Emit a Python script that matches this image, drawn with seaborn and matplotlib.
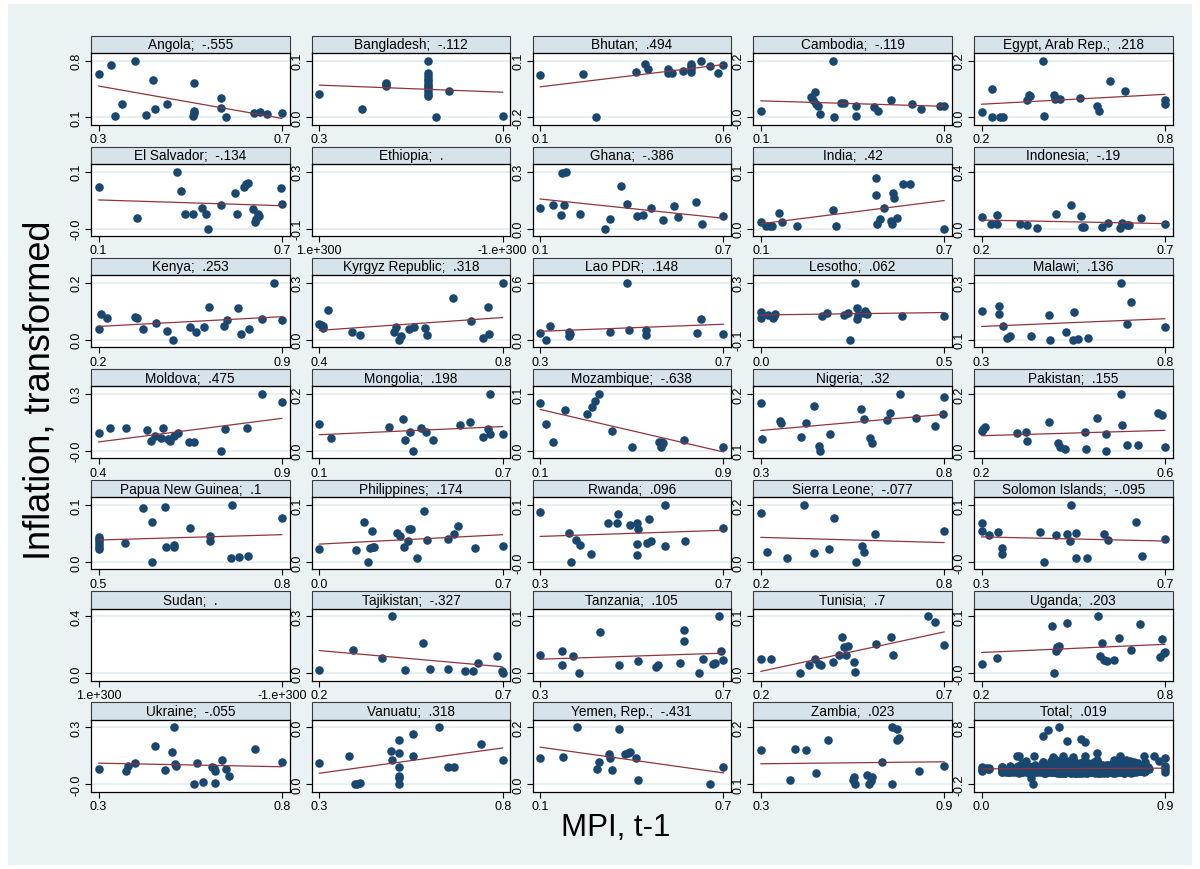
import numpy as np
import pandas as pd
import matplotlib
matplotlib.use("Agg")
import matplotlib.pyplot as plt
from matplotlib.patches import Rectangle
import seaborn as sns

sns.set_theme(style="white")
plt.rcParams['font.family'] = ['Liberation Sans', 'DejaVu Sans']

# ---------------- data (MPI t-1 on x, transformed inflation on y) ----------------
countries = ["Angola", "Bangladesh", "Bhutan", "Cambodia", "Egypt, Arab Rep.",
             "El Salvador", "Ethiopia", "Ghana", "India", "Indonesia",
             "Kenya", "Kyrgyz Republic", "Lao PDR", "Lesotho", "Malawi",
             "Moldova", "Mongolia", "Mozambique", "Nigeria", "Pakistan",
             "Papua New Guinea", "Philippines", "Rwanda", "Sierra Leone", "Solomon Islands",
             "Sudan", "Tajikistan", "Tanzania", "Tunisia", "Uganda",
             "Ukraine", "Vanuatu", "Yemen, Rep.", "Zambia"]
coef_labels = ["-.555", "-.112", ".494", "-.119", ".218",
               "-.134", ".", "-.386", ".42", "-.19",
               ".253", ".318", ".148", ".062", ".136",
               ".475", ".198", "-.638", ".32", ".155",
               ".1", ".174", ".096", "-.077", "-.095",
               ".", "-.327", ".105", ".7", ".203",
               "-.055", ".318", "-.431", ".023"]
total_label = "Total"
total_coef = ".019"

angola_x = [0.300, 0.328, 0.380, 0.336, 0.351, 0.403, 0.418, 0.424, 0.450, 0.508, 0.508, 0.505, 0.508, 0.566, 0.566, 0.578, 0.639, 0.651, 0.668, 0.700]
angola_y = [0.639, 0.746, 0.800, 0.121, 0.269, 0.133, 0.561, 0.207, 0.277, 0.532, 0.186, 0.125, 0.158, 0.343, 0.228, 0.108, 0.158, 0.170, 0.154, 0.162]

bangladesh_x = [0.300, 0.370, 0.409, 0.409, 0.409, 0.478, 0.478, 0.478, 0.478, 0.478, 0.478, 0.478, 0.478, 0.478, 0.478, 0.478, 0.491, 0.512, 0.599]
bangladesh_y = [0.041, 0.015, 0.061, 0.058, 0.055, 0.100, 0.078, 0.073, 0.068, 0.064, 0.059, 0.055, 0.051, 0.046, 0.042, 0.038, 0.000, 0.046, 0.002]

bhutan_x = [0.100, 0.218, 0.251, 0.360, 0.384, 0.392, 0.447, 0.447, 0.459, 0.488, 0.509, 0.509, 0.509, 0.509, 0.538, 0.562, 0.584, 0.598]
bhutan_y = [0.022, 0.031, -0.200, 0.038, 0.084, 0.054, 0.054, 0.036, 0.036, 0.047, 0.084, 0.070, 0.054, 0.042, 0.100, 0.070, 0.033, 0.079]

cambodia_x = [0.100, 0.290, 0.307, 0.300, 0.312, 0.317, 0.327, 0.376, 0.378, 0.406, 0.416, 0.465, 0.462, 0.531, 0.547, 0.597, 0.676, 0.711, 0.782, 0.800]
cambodia_y = [0.018, 0.069, 0.088, 0.058, 0.046, 0.037, 0.010, 0.200, -0.004, 0.048, 0.048, 0.036, 0.001, 0.032, 0.021, 0.060, 0.045, 0.027, 0.036, 0.036]

egypt_x = [0.200, 0.234, 0.234, 0.262, 0.271, 0.349, 0.356, 0.360, 0.402, 0.405, 0.436, 0.439, 0.458, 0.521, 0.578, 0.584, 0.620, 0.670, 0.800, 0.800]
egypt_y = [0.021, 0.101, 0.001, 0.004, 0.004, 0.062, 0.079, 0.075, 0.200, 0.007, 0.078, 0.066, 0.067, 0.069, 0.042, 0.024, 0.128, 0.095, 0.061, 0.049]

elsalvador_x = [0.100, 0.226, 0.357, 0.370, 0.384, 0.408, 0.439, 0.451, 0.459, 0.500, 0.545, 0.553, 0.577, 0.583, 0.588, 0.604, 0.612, 0.616, 0.620, 0.625, 0.697, 0.700]
elsalvador_y = [0.072, 0.016, 0.100, 0.065, 0.024, 0.024, 0.035, 0.023, -0.003, 0.039, 0.061, 0.024, 0.073, 0.077, 0.079, 0.033, 0.009, 0.015, 0.024, 0.019, 0.070, 0.041]

ethiopia_x = []
ethiopia_y = []

ghana_x = [0.100, 0.142, 0.168, 0.173, 0.185, 0.180, 0.231, 0.311, 0.329, 0.364, 0.385, 0.416, 0.438, 0.464, 0.502, 0.537, 0.550, 0.609, 0.629, 0.700]
ghana_y = [0.106, 0.124, 0.072, 0.293, 0.300, 0.125, 0.079, 0.000, 0.049, 0.222, 0.131, 0.067, 0.072, 0.108, 0.044, 0.118, 0.062, 0.141, 0.026, 0.064]

india_x = [0.100, 0.118, 0.130, 0.137, 0.161, 0.171, 0.218, 0.337, 0.346, 0.476, 0.476, 0.480, 0.490, 0.504, 0.526, 0.529, 0.533, 0.537, 0.544, 0.564, 0.589, 0.700]
india_y = [0.011, 0.005, 0.005, 0.005, 0.027, 0.011, 0.005, 0.032, 0.004, 0.089, 0.059, 0.008, 0.016, 0.036, 0.014, 0.008, 0.063, 0.053, 0.018, 0.078, 0.079, 0.000]

indonesia_x = [0.200, 0.226, 0.241, 0.241, 0.306, 0.324, 0.350, 0.404, 0.444, 0.470, 0.475, 0.479, 0.527, 0.544, 0.577, 0.583, 0.597, 0.603, 0.635, 0.700]
indonesia_y = [0.078, 0.035, 0.035, 0.092, 0.035, 0.028, 0.005, 0.104, 0.167, 0.087, 0.014, 0.014, 0.009, 0.040, 0.002, 0.040, 0.026, 0.028, 0.075, 0.035]

kenya_x = [0.200, 0.210, 0.233, 0.340, 0.345, 0.370, 0.419, 0.461, 0.483, 0.548, 0.571, 0.603, 0.623, 0.679, 0.689, 0.731, 0.745, 0.776, 0.824, 0.871, 0.900]
kenya_y = [0.038, 0.090, 0.075, 0.078, 0.075, 0.037, 0.058, 0.032, 0.000, 0.045, 0.027, 0.043, 0.114, 0.047, 0.070, 0.110, 0.020, 0.037, 0.073, 0.200, 0.070]

kyrgyz_x = [0.400, 0.404, 0.408, 0.409, 0.420, 0.472, 0.488, 0.562, 0.567, 0.573, 0.577, 0.595, 0.606, 0.630, 0.635, 0.690, 0.729, 0.757, 0.770, 0.767, 0.799]
kyrgyz_y = [0.080, 0.076, 0.073, 0.064, 0.156, 0.039, 0.027, 0.043, 0.066, 0.000, 0.018, 0.055, 0.067, 0.064, 0.025, 0.218, 0.099, 0.011, 0.030, 0.174, 0.300]

lao_x = [0.300, 0.312, 0.322, 0.363, 0.364, 0.363, 0.452, 0.488, 0.493, 0.529, 0.529, 0.640, 0.650, 0.698]
lao_y = [0.074, 0.000, 0.141, 0.081, 0.056, 0.035, 0.078, 0.600, 0.099, 0.106, 0.046, 0.071, 0.215, 0.064]

lesotho_x = [0.000, 0.000, 0.021, 0.032, 0.035, 0.039, 0.168, 0.181, 0.227, 0.239, 0.242, 0.258, 0.261, 0.261, 0.264, 0.280, 0.285, 0.290, 0.384, 0.500]
lesotho_y = [0.100, 0.059, 0.082, 0.061, 0.073, 0.089, 0.073, 0.096, 0.080, 0.096, -0.090, 0.300, 0.130, 0.055, 0.077, 0.096, 0.107, 0.084, 0.075, 0.075]

malawi_x = [0.300, 0.348, 0.348, 0.359, 0.370, 0.377, 0.434, 0.484, 0.486, 0.531, 0.548, 0.552, 0.564, 0.589, 0.680, 0.697, 0.707, 0.800]
malawi_y = [0.193, 0.212, 0.181, 0.134, 0.086, 0.094, 0.094, 0.177, 0.081, 0.111, 0.081, 0.186, 0.085, 0.089, 0.300, 0.140, 0.225, 0.128]

moldova_x = [0.400, 0.431, 0.474, 0.532, 0.542, 0.555, 0.569, 0.576, 0.589, 0.596, 0.607, 0.616, 0.646, 0.660, 0.735, 0.744, 0.805, 0.846, 0.900]
moldova_y = [0.091, 0.116, 0.118, 0.109, 0.050, 0.076, 0.064, 0.118, 0.059, 0.050, 0.076, 0.093, 0.044, 0.044, -0.004, 0.110, 0.116, 0.300, 0.254]

mongolia_x = [0.100, 0.137, 0.327, 0.374, 0.379, 0.395, 0.407, 0.433, 0.447, 0.472, 0.559, 0.591, 0.633, 0.650, 0.657, 0.657, 0.698]
mongolia_y = [0.096, 0.045, 0.084, 0.112, 0.039, 0.065, 0.001, 0.079, 0.068, 0.040, 0.092, 0.100, 0.049, 0.076, 0.200, 0.060, 0.061]

mozambique_x = [0.100, 0.126, 0.156, 0.207, 0.305, 0.328, 0.339, 0.358, 0.412, 0.501, 0.618, 0.627, 0.633, 0.636, 0.729, 0.900]
mozambique_y = [0.084, 0.047, 0.015, 0.071, 0.064, 0.076, 0.087, 0.100, 0.034, 0.006, 0.015, 0.007, 0.016, 0.013, 0.019, 0.006]

nigeria_x = [0.300, 0.304, 0.353, 0.356, 0.409, 0.424, 0.444, 0.460, 0.462, 0.488, 0.572, 0.581, 0.597, 0.603, 0.643, 0.653, 0.679, 0.722, 0.775, 0.798, 0.800]
nigeria_y = [0.179, 0.098, 0.138, 0.134, 0.103, 0.133, 0.172, 0.082, 0.071, 0.109, 0.166, 0.143, 0.100, 0.088, 0.140, 0.157, 0.200, 0.146, 0.127, 0.154, 0.192]

pakistan_x = [0.200, 0.204, 0.208, 0.277, 0.296, 0.299, 0.348, 0.367, 0.371, 0.381, 0.426, 0.428, 0.452, 0.471, 0.471, 0.505, 0.506, 0.518, 0.542, 0.584, 0.593, 0.600]
pakistan_y = [0.068, 0.076, 0.082, 0.062, 0.065, 0.033, 0.100, 0.026, 0.014, 0.006, 0.065, 0.007, 0.114, 0.059, 0.000, 0.200, 0.089, 0.021, 0.021, 0.133, 0.127, 0.015]

png_x = [0.500, 0.500, 0.500, 0.500, 0.500, 0.500, 0.543, 0.572, 0.587, 0.588, 0.609, 0.610, 0.623, 0.623, 0.650, 0.682, 0.682, 0.717, 0.719, 0.730, 0.744, 0.800]
png_y = [0.044, 0.040, 0.036, 0.031, 0.027, 0.022, 0.033, 0.095, 0.070, 0.000, 0.096, 0.027, 0.029, 0.027, 0.060, 0.045, 0.037, 0.006, 0.100, 0.009, 0.011, 0.077]

philippines_x = [0.000, 0.139, 0.169, 0.184, 0.193, 0.199, 0.203, 0.208, 0.294, 0.309, 0.322, 0.339, 0.342, 0.350, 0.370, 0.398, 0.408, 0.491, 0.513, 0.528, 0.591, 0.698]
philippines_y = [0.022, 0.020, 0.070, 0.000, 0.025, 0.055, 0.027, 0.027, 0.051, 0.045, 0.027, 0.036, 0.057, 0.058, 0.007, 0.089, 0.038, 0.040, 0.049, 0.063, 0.024, 0.028]

rwanda_x = [0.300, 0.363, 0.368, 0.377, 0.386, 0.410, 0.447, 0.468, 0.469, 0.495, 0.510, 0.512, 0.510, 0.510, 0.531, 0.540, 0.537, 0.572, 0.572, 0.615, 0.698]
rwanda_y = [0.088, 0.049, -0.003, 0.037, 0.027, 0.012, 0.067, 0.067, 0.084, 0.063, 0.068, 0.056, 0.029, 0.010, 0.032, 0.034, 0.074, 0.100, 0.026, 0.034, 0.058]

sierraleone_x = [0.200, 0.221, 0.285, 0.342, 0.374, 0.424, 0.438, 0.512, 0.532, 0.536, 0.573, 0.800]
sierraleone_y = [0.172, 0.034, 0.014, 0.200, 0.031, 0.045, 0.154, 0.000, 0.057, 0.033, 0.097, 0.109]

solomon_x = [0.300, 0.300, 0.316, 0.335, 0.344, 0.344, 0.427, 0.437, 0.462, 0.486, 0.492, 0.495, 0.506, 0.507, 0.531, 0.567, 0.575, 0.637, 0.649, 0.700]
solomon_y = [0.067, 0.052, 0.045, 0.051, 0.023, 0.012, 0.051, -0.003, 0.046, 0.047, 0.034, 0.100, 0.049, 0.004, 0.004, 0.048, 0.036, 0.069, 0.007, 0.038]

sudan_x = []
sudan_y = []

tajikistan_x = [0.200, 0.291, 0.370, 0.399, 0.433, 0.484, 0.501, 0.552, 0.598, 0.618, 0.633, 0.684, 0.697, 0.700]
tajikistan_y = [0.016, 0.119, 0.078, 0.300, 0.016, 0.158, 0.023, 0.021, 0.012, 0.009, 0.055, 0.089, 0.011, 0.000]

tanzania_x = [0.300, 0.347, 0.348, 0.371, 0.385, 0.430, 0.471, 0.513, 0.551, 0.557, 0.603, 0.613, 0.613, 0.644, 0.653, 0.676, 0.679, 0.688, 0.692, 0.698]
tanzania_y = [0.032, 0.038, 0.014, 0.030, 0.000, 0.072, 0.014, 0.021, 0.010, 0.014, 0.018, 0.076, 0.057, 0.000, 0.024, 0.015, 0.017, 0.100, 0.038, 0.023]

tunisia_x = [0.200, 0.227, 0.308, 0.331, 0.348, 0.360, 0.363, 0.397, 0.413, 0.421, 0.428, 0.433, 0.438, 0.455, 0.458, 0.513, 0.556, 0.560, 0.655, 0.676, 0.700]
tunisia_y = [0.025, 0.024, 0.000, 0.014, 0.024, 0.015, 0.014, 0.019, 0.031, 0.063, 0.046, 0.031, 0.047, 0.019, 0.001, 0.051, 0.063, 0.032, 0.100, 0.089, 0.050]

uganda_x = [0.200, 0.250, 0.429, 0.438, 0.445, 0.446, 0.450, 0.453, 0.479, 0.582, 0.586, 0.595, 0.602, 0.609, 0.634, 0.650, 0.688, 0.717, 0.784, 0.790, 0.800, 0.797]
uganda_y = [0.014, 0.025, 0.082, -0.002, 0.038, 0.044, 0.042, 0.046, 0.087, 0.100, 0.029, 0.051, 0.022, 0.019, 0.021, 0.060, 0.040, 0.086, 0.027, 0.059, 0.035, 0.034]

ukraine_x = [0.300, 0.376, 0.380, 0.399, 0.453, 0.480, 0.500, 0.506, 0.509, 0.510, 0.559, 0.569, 0.584, 0.610, 0.614, 0.618, 0.618, 0.637, 0.647, 0.656, 0.726, 0.800]
ukraine_y = [0.075, 0.064, 0.094, 0.109, 0.200, 0.073, 0.168, 0.300, 0.103, 0.094, -0.004, 0.109, 0.005, 0.089, 0.080, 0.064, 0.001, 0.123, 0.075, 0.041, 0.184, 0.112]

vanuatu_x = [0.300, 0.381, 0.396, 0.403, 0.410, 0.496, 0.498, 0.516, 0.516, 0.516, 0.516, 0.516, 0.517, 0.554, 0.554, 0.624, 0.649, 0.666, 0.739, 0.798]
vanuatu_y = [0.015, 0.020, 0.000, 0.000, 0.001, 0.023, 0.017, 0.031, 0.022, 0.012, 0.006, 0.004, 0.000, 0.035, 0.020, 0.040, 0.012, 0.012, 0.028, 0.017]

yemen_x = [0.100, 0.176, 0.220, 0.285, 0.293, 0.326, 0.329, 0.334, 0.358, 0.378, 0.387, 0.394, 0.412, 0.419, 0.653, 0.697]
yemen_y = [0.090, 0.095, 0.200, 0.053, 0.077, 0.105, 0.091, 0.049, 0.194, 0.105, 0.110, 0.113, 0.090, 0.013, 0.000, 0.060]

zambia_x = [0.300, 0.395, 0.411, 0.449, 0.480, 0.520, 0.601, 0.605, 0.608, 0.648, 0.655, 0.659, 0.665, 0.697, 0.728, 0.728, 0.747, 0.744, 0.751, 0.818, 0.900]
zambia_y = [0.149, 0.081, 0.151, 0.148, 0.097, 0.170, 0.080, 0.088, 0.071, 0.091, 0.071, 0.078, 0.086, 0.120, 0.072, 0.200, 0.196, 0.170, 0.175, 0.101, 0.113]

# y-axis ticks where the range includes observations without an MPI value
ytick_override = {
    "Ethiopia": [-0.1, 0.3],
    "India": [0.0, 0.1],
    "Indonesia": [0.0, 0.4],
    "Mozambique": [0.0, 0.1],
    "Philippines": [0.0, 0.1],
    "Sudan": [0.0, 0.4],
}
empty_xtick_labels = ["1.e+300", "-1.e+300"]

xs = [angola_x, bangladesh_x, bhutan_x, cambodia_x, egypt_x,
      elsalvador_x, ethiopia_x, ghana_x, india_x, indonesia_x,
      kenya_x, kyrgyz_x, lao_x, lesotho_x, malawi_x,
      moldova_x, mongolia_x, mozambique_x, nigeria_x, pakistan_x,
      png_x, philippines_x, rwanda_x, sierraleone_x, solomon_x,
      sudan_x, tajikistan_x, tanzania_x, tunisia_x, uganda_x,
      ukraine_x, vanuatu_x, yemen_x, zambia_x]
ys = [angola_y, bangladesh_y, bhutan_y, cambodia_y, egypt_y,
      elsalvador_y, ethiopia_y, ghana_y, india_y, indonesia_y,
      kenya_y, kyrgyz_y, lao_y, lesotho_y, malawi_y,
      moldova_y, mongolia_y, mozambique_y, nigeria_y, pakistan_y,
      png_y, philippines_y, rwanda_y, sierraleone_y, solomon_y,
      sudan_y, tajikistan_y, tanzania_y, tunisia_y, uganda_y,
      ukraine_y, vanuatu_y, yemen_y, zambia_y]

# ---------------- styling ----------------
W, H = 1200, 870
BG = "#eaf2f3"
NAVY = "#1a476f"
MAROON = "#90353b"
STRIP = "#d6e3ea"
GRID = "#e8eff1"

fig = plt.figure(figsize=(W / 100, H / 100), dpi=100)
fig.patch.set_facecolor("white")
fig.add_artist(Rectangle((8 / W, 4 / H), (W - 16) / W, (H - 9) / H,
                         transform=fig.transFigure, facecolor=BG,
                         edgecolor="none", zorder=-10))

PW, PH = 198.5, 72.0
STRIP_H = 17.5


def draw_panel(ax, title, coef, x, y, yt=None):
    ax.set_facecolor("white")
    if len(x):
        df = pd.DataFrame({"x": x, "y": y})
        sns.scatterplot(data=df, x="x", y="y", ax=ax, color=NAVY, s=38,
                        linewidth=0, zorder=3, legend=False)
        sns.regplot(data=df, x="x", y="y", ax=ax, scatter=False, ci=None,
                    truncate=True, color=MAROON,
                    line_kws={"lw": 0.9, "zorder": 4})
        xt = [min(x), max(x)]
        xl = ["%.1f" % v for v in xt]
        if yt is None:
            yt = [min(y), max(y)]
    else:
        xt = [0.0, 1.0]
        xl = empty_xtick_labels
    yl = ["%.1f" % v for v in yt]
    xr = xt[1] - xt[0]
    yr = yt[1] - yt[0]
    ax.set_xlim(xt[0] - 0.041 * xr, xt[1] + 0.041 * xr)
    ax.set_ylim(yt[0] - 0.132 * yr, yt[1] + 0.132 * yr)
    ax.set_xticks(xt)
    ax.set_xticklabels(xl, fontsize=9)
    ax.set_yticks(yt)
    ax.set_yticklabels(yl, fontsize=9, rotation=90, va="center")
    ax.set_xlabel("")
    ax.set_ylabel("")
    ax.tick_params(axis="both", which="major", length=4, width=0.8,
                   color="black", direction="out", pad=2,
                   left=True, bottom=True, labelcolor="black")
    ax.grid(axis="y", color=GRID, lw=1.4)
    ax.grid(axis="x", visible=False)
    ax.set_axisbelow(True)
    for s in ax.spines.values():
        s.set_color("black")
        s.set_linewidth(0.9)
    sh = STRIP_H / PH
    ax.add_artist(Rectangle((0, 1), 1, sh, transform=ax.transAxes,
                            clip_on=False, facecolor=STRIP,
                            edgecolor="#3a3a3a", lw=0.8))
    ax.text(0.5, 1 + sh / 2, f"{title};  {coef}", transform=ax.transAxes,
            ha="center", va="center", fontsize=9.8, color="black")


panels = list(zip(countries, coef_labels, xs, ys))
all_x = [v for lst in xs for v in lst]
all_y = [v for lst in ys for v in lst]
panels.append((total_label, total_coef, all_x, all_y))

for i, (name, coef, x, y) in enumerate(panels):
    r, c = divmod(i, 5)
    L = 91 + 220.75 * c
    T = 54 + 111.1 * r
    ax = fig.add_axes([L / W, 1 - (T + PH) / H, PW / W, PH / H])
    draw_panel(ax, name, coef, x, y, ytick_override.get(name))

fig.text(40 / W, 1 - 390 / H, "Inflation, transformed", rotation=90,
         fontsize=26, ha="center", va="center", color="black")
fig.text(616 / W, 1 - 828 / H, "MPI, t-1", fontsize=22.5,
         ha="center", va="center", color="black")

fig.savefig("out.png", dpi=100, facecolor=fig.get_facecolor())
